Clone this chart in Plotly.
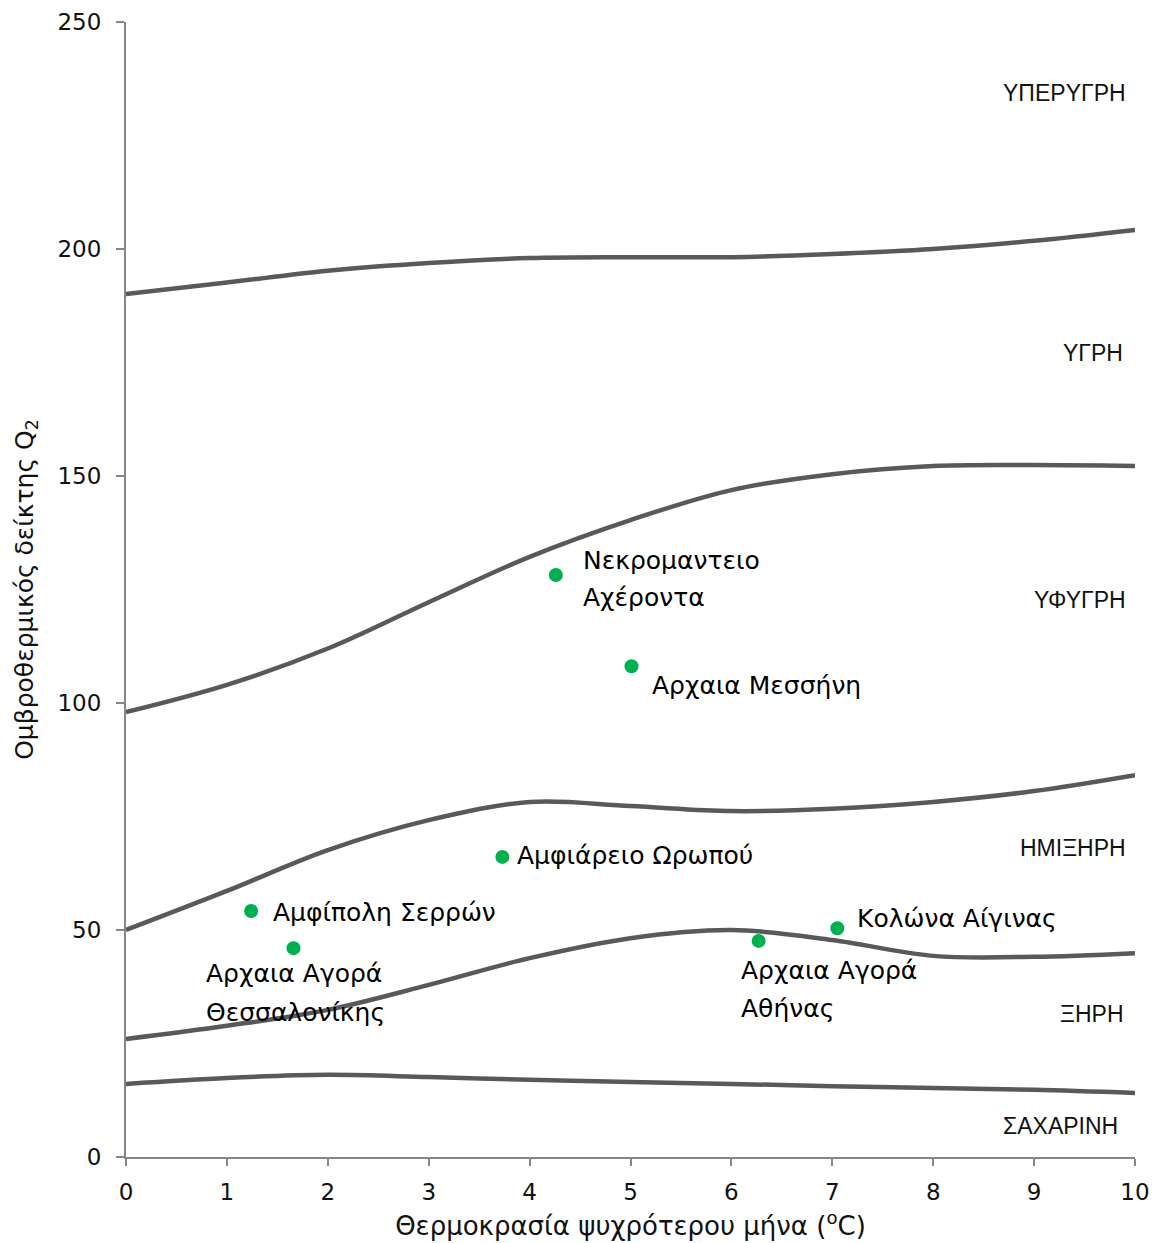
import plotly.graph_objects as go

# Boundary curves of the Emberger climagram (Q2 vs coldest-month temperature)
curve_x = [0, 1, 2, 3, 4, 5, 6, 7, 8, 9, 10]
boundary_perhumid = [190.1, 192.6, 195.2, 196.9, 198.0, 198.2, 198.2, 198.9, 200.0, 201.8, 204.2]
boundary_humid = [98.0, 104.0, 112.0, 122.2, 132.2, 140.3, 146.9, 150.4, 152.2, 152.4, 152.2]
boundary_subhumid = [50.0, 58.6, 67.6, 74.2, 78.2, 77.3, 76.2, 76.7, 78.2, 80.6, 84.1]
boundary_semiarid = [26.0, 28.9, 32.4, 37.9, 43.8, 48.2, 50.0, 47.8, 44.3, 44.1, 44.9]
boundary_arid = [16.1, 17.4, 18.1, 17.6, 17.0, 16.5, 16.1, 15.6, 15.2, 14.8, 14.1]

# Sites
site_names = [
    "Νεκρομαντειο<br>Αχέροντα",
    "Αρχαια Μεσσήνη",
    "Αμφιάρειο Ωρωπού",
    "Αμφίπολη Σερρών",
    "Αρχαια Αγορά<br>Θεσσαλονίκης",
    "Αρχαια Αγορά<br>Αθήνας",
    "Κολώνα Αίγινας",
]
site_temp = [4.26, 5.01, 3.73, 1.24, 1.66, 6.27, 7.05]
site_q2 = [128.2, 108.1, 66.1, 54.2, 46.0, 47.6, 50.4]

# Climate zone names
zone_names = ["ΥΠΕΡΥΓΡΗ", "ΥΓΡΗ", "ΥΦΥΓΡΗ", "ΗΜΙΞΗΡΗ", "ΞΗΡΗ", "ΣΑΧΑΡΙΝΗ"]

# Label placement (pixel offsets from each marker, per text line)
label_offsets = [
    [(25, 14), (25, -23)],
    [(18, -19)],
    [(13, 1)],
    [(20, -2)],
    [(-89, -25), (-89, -64)],
    [(-20, -30), (-20, -68)],
    [(18, 10)],
]
zone_label_y = [234.4, 177.1, 122.7, 68.1, 31.5, 6.8]
zone_label_shift = [-7, -10, -7, -7, -9, -15]

MAIN_FONT = "DejaVu Sans"
ZONE_FONT = "Liberation Sans"
AXIS_GREY = "#868686"

fig = go.Figure()

for ys in [boundary_perhumid, boundary_humid, boundary_subhumid,
           boundary_semiarid, boundary_arid]:
    fig.add_trace(go.Scatter(
        x=curve_x, y=ys, mode="lines",
        line=dict(color="#595959", width=4.5, shape="spline", smoothing=1.0),
        hoverinfo="skip", showlegend=False,
    ))

fig.add_trace(go.Scatter(
    x=site_temp, y=site_q2, mode="markers",
    marker=dict(color="#00B050", size=14),
    showlegend=False,
))

annotations = []
for name, tx, qy, offs in zip(site_names, site_temp, site_q2, label_offsets):
    for line, (dx, dy) in zip(name.split("<br>"), offs):
        annotations.append(dict(
            x=tx, y=qy, xref="x", yref="y", text=line, showarrow=False,
            xanchor="left", yanchor="middle", xshift=dx, yshift=dy,
            font=dict(family=MAIN_FONT, size=25, color="#000000"),
        ))

for name, zy, sh in zip(zone_names, zone_label_y, zone_label_shift):
    annotations.append(dict(
        x=10, y=zy, xref="x", yref="y", text=name, showarrow=False,
        xanchor="right", yanchor="middle", xshift=sh,
        font=dict(family=ZONE_FONT, size=23, color="#111111"),
    ))

fig.update_layout(
    width=1158, height=1243,
    margin=dict(l=126, r=23, t=22, b=86, autoexpand=False),
    plot_bgcolor="white", paper_bgcolor="white",
    font=dict(family=MAIN_FONT, size=23, color="#111111"),
    annotations=annotations,
    xaxis=dict(
        range=[0, 10], tickmode="array", tickvals=list(range(11)),
        showgrid=False, zeroline=False, showline=True, automargin=False,
        linecolor=AXIS_GREY, linewidth=2,
        ticks="outside", ticklen=7, tickwidth=2, tickcolor=AXIS_GREY,
        ticklabelstandoff=6,
        title=dict(text="Θερμοκρασία ψυχρότερου μήνα (<sup>o</sup>C)",
                   font=dict(family=MAIN_FONT, size=26), standoff=13),
    ),
    yaxis=dict(
        range=[0, 250], tickmode="array", tickvals=[0, 50, 100, 150, 200, 250],
        showgrid=False, zeroline=False, showline=True, automargin=False,
        linecolor=AXIS_GREY, linewidth=2,
        ticks="outside", ticklen=8, tickwidth=2, tickcolor=AXIS_GREY,
        ticklabelstandoff=10,
        title=dict(text="Ομβροθερμικός δείκτης Q<sub>2</sub>",
                   font=dict(family=MAIN_FONT, size=25), standoff=17),
    ),
)

fig.write_html("out.html")
